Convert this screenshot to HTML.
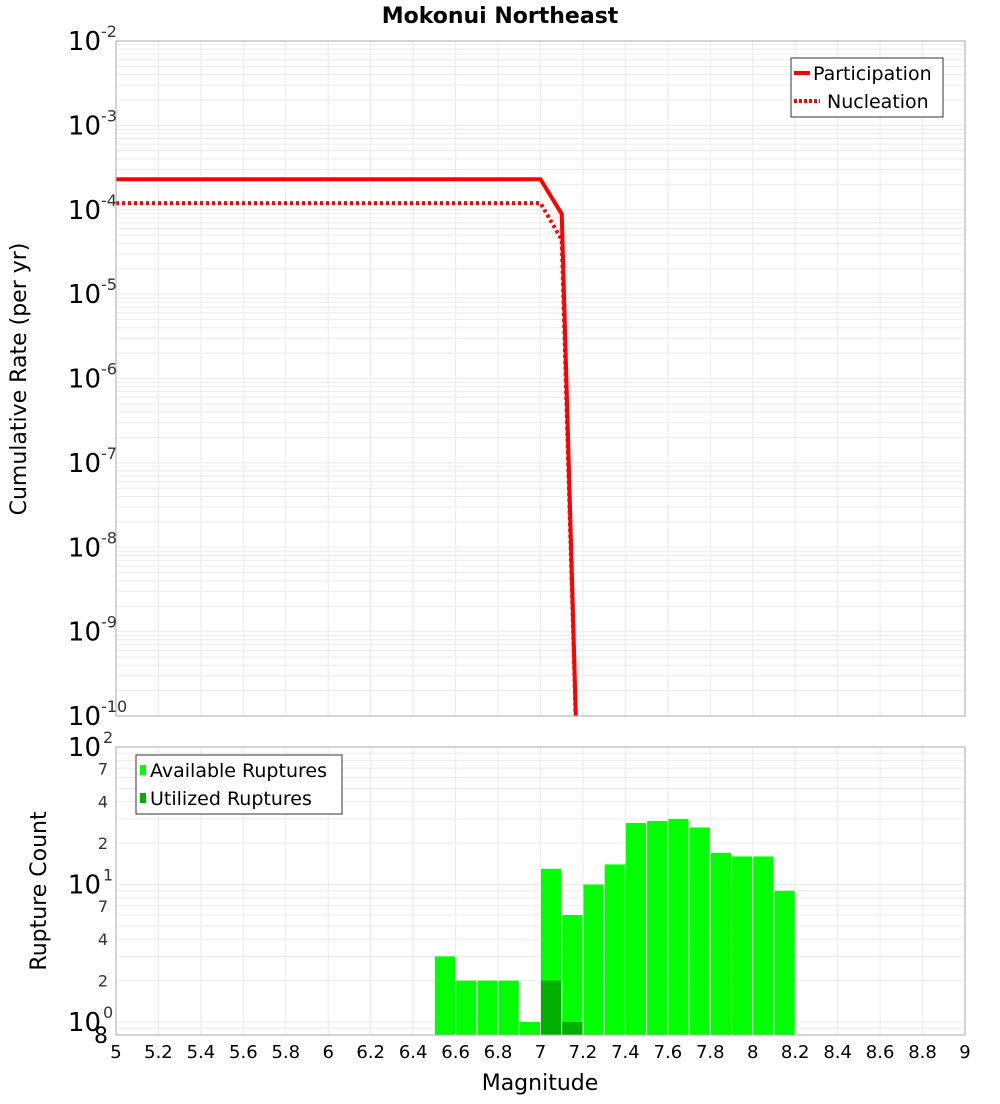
<!DOCTYPE html>
<html><head><meta charset="utf-8"><style>
body{margin:0;background:#fff;font-family:"DejaVu Sans","Liberation Sans",sans-serif}
</style></head><body>
<svg id="chart" width="1000" height="1100" xmlns="http://www.w3.org/2000/svg" style="font-family:'DejaVu Sans','Liberation Sans',sans-serif">
<g id="g"></g>
</svg>
<script>
const lineMags=[5.0,7.0,7.1,7.2];
const participation=[2.3e-4,2.3e-4,8.9e-5,1e-13];
const nucleation=[1.2e-4,1.2e-4,4.4e-5,1e-13];
const binMags=[6.55,6.65,6.75,6.85,6.95,7.05,7.15,7.25,7.35,7.45,7.55,7.65,7.75,7.85,7.95,8.05,8.15];
const available=[3,2,2,2,1,13,6,10,14,28,29,30,26,17,16,16,9];
const utilizedMags=[7.05,7.15];
const utilized=[2,1];
const xTicks=[5,5.2,5.4,5.6,5.8,6,6.2,6.4,6.6,6.8,7,7.2,7.4,7.6,7.8,8,8.2,8.4,8.6,8.8,9];
const topExps=[-2,-3,-4,-5,-6,-7,-8,-9,-10];
const botMinor=[7,4,2];

const NS='http://www.w3.org/2000/svg';
const g=document.getElementById('g');
function el(tag,attrs,parent){const e=document.createElementNS(NS,tag);for(const k in attrs)e.setAttribute(k,attrs[k]);(parent||g).appendChild(e);return e;}
const L=116,R=965,T1=41,B1=716,T2=747,B2=1035;
const x=m=>L+(m-5)/4*(R-L);
const y1=v=>T1+(-2-Math.log10(v))*(B1-T1)/8;
const dec2=137.5;
const y2=v=>T2+(2-Math.log10(v))*dec2;

// title
let t=el('text',{x:500,y:23,'text-anchor':'middle','font-size':22,'font-weight':'bold'});t.textContent='Mokonui Northeast';


// top plot gridlines
const grid1=el('g',{stroke:'#ebebeb','stroke-width':1});

for(let e=-10;e<-2;e++)for(let k=1;k<10;k++){const yy=y1(k*Math.pow(10,e));el('line',{x1:L,x2:R,y1:yy,y2:yy},grid1);}
xTicks.forEach(m=>el('line',{x1:x(m),x2:x(m),y1:T1,y2:B1},grid1));
// bottom gridlines
const grid2=el('g',{stroke:'#ebebeb','stroke-width':1});

for(let e=-1;e<2;e++)for(let k=1;k<10;k++){const yy=y2(k*Math.pow(10,e));if(yy>=T2&&yy<=B2)el('line',{x1:L,x2:R,y1:yy,y2:yy},grid2);}
xTicks.forEach(m=>el('line',{x1:x(m),x2:x(m),y1:T2,y2:B2},grid2));

// clip
const defs=el('defs',{});
const cp=el('clipPath',{id:'c1'},defs);el('rect',{x:L,y:T1,width:R-L,height:B1-T1},cp);

// lines
function path(vals){return lineMags.map((m,i)=>(i?'L':'M')+x(m)+','+y1(vals[i])).join(' ');}
const lp=el('path',{d:path(participation),fill:'none',stroke:'#ff0000','stroke-width':4,'clip-path':'url(#c1)'});

const ln=el('path',{d:path(nucleation),fill:'none',stroke:'#ff0000','stroke-width':4,'stroke-dasharray':'3,3','clip-path':'url(#c1)'});


// bars
const bw=(R-L)/40;
binMags.forEach((m,i)=>{const r=el('rect',{x:x(m)-bw/2+0.5,y:y2(available[i]),width:bw-1,height:B2-y2(available[i]),fill:'#00ff00'});
});
utilizedMags.forEach((m,i)=>{const r=el('rect',{x:x(m)-bw/2+0.5,y:y2(utilized[i]),width:bw-1,height:B2-y2(utilized[i]),fill:'#00b000'});
});

// frames
let f=el('rect',{x:L,y:T1,width:R-L,height:B1-T1,fill:'none',stroke:'#aaa'});
f=el('rect',{x:L,y:T2,width:R-L,height:B2-T2,fill:'none',stroke:'#aaa'});

// top y labels
topExps.forEach(e=>{const yy=y1(Math.pow(10,e));const tt=el('text',{x:101,y:yy+9,'text-anchor':'end','font-size':26});tt.textContent='10';

const s=el('text',{x:101,y:yy-4,'font-size':16,fill:'#333'});s.textContent=String(e);});
// bottom y labels
[2,1,0].forEach(e=>{const yy=y2(Math.pow(10,e));const tt=el('text',{x:101,y:yy+9,'text-anchor':'end','font-size':26});tt.textContent='10';

const s=el('text',{x:103,y:yy-4,'font-size':16,fill:'#333'});s.textContent=String(e);
if(e>0)botMinor.forEach(k=>{const v=k*Math.pow(10,e-1);const m=el('text',{x:108,y:y2(v)+6,'text-anchor':'end','font-size':16,fill:'#333'});m.textContent=String(k);
});});
t=el('text',{x:108,y:1043,'text-anchor':'end','font-size':22});t.textContent='8';

// x tick labels
xTicks.forEach(m=>{const tt=el('text',{x:x(m),y:1058,'text-anchor':'middle','font-size':18});tt.textContent=String(m);
});
t=el('text',{x:540,y:1090,'text-anchor':'middle','font-size':22});t.textContent='Magnitude';
t=el('text',{x:0,y:0,'text-anchor':'middle','font-size':22,transform:'translate(26,379) rotate(-90)'});t.textContent='Cumulative Rate (per yr)';
t=el('text',{x:0,y:0,'text-anchor':'middle','font-size':22,transform:'translate(46,891) rotate(-90)'});t.textContent='Rupture Count';

// top legend
const lg=el('g',{});
el('rect',{x:791,y:58,width:152,height:59,fill:'#fff',stroke:'#333'},lg);
el('line',{x1:794,x2:810,y1:73,y2:73,stroke:'#f00','stroke-width':4},lg);
el('line',{x1:794,x2:820,y1:101,y2:101,stroke:'#f00','stroke-width':4,'stroke-dasharray':'3,2'},lg);
t=el('text',{x:813,y:80,'font-size':19},lg);t.textContent='Participation';
t=el('text',{x:827,y:108,'font-size':19},lg);t.textContent='Nucleation';
// bottom legend
const lg2=el('g',{});
el('rect',{x:136,y:755,width:206,height:59,fill:'#fff',stroke:'#333'},lg2);
el('rect',{x:140,y:765,width:6,height:10,fill:'#00ff00'},lg2);
el('rect',{x:140,y:793,width:6,height:10,fill:'#00b000'},lg2);
t=el('text',{x:150,y:777,'font-size':19},lg2);t.textContent='Available Ruptures';
t=el('text',{x:150,y:805,'font-size':19},lg2);t.textContent='Utilized Ruptures';
</script>
</body></html>
